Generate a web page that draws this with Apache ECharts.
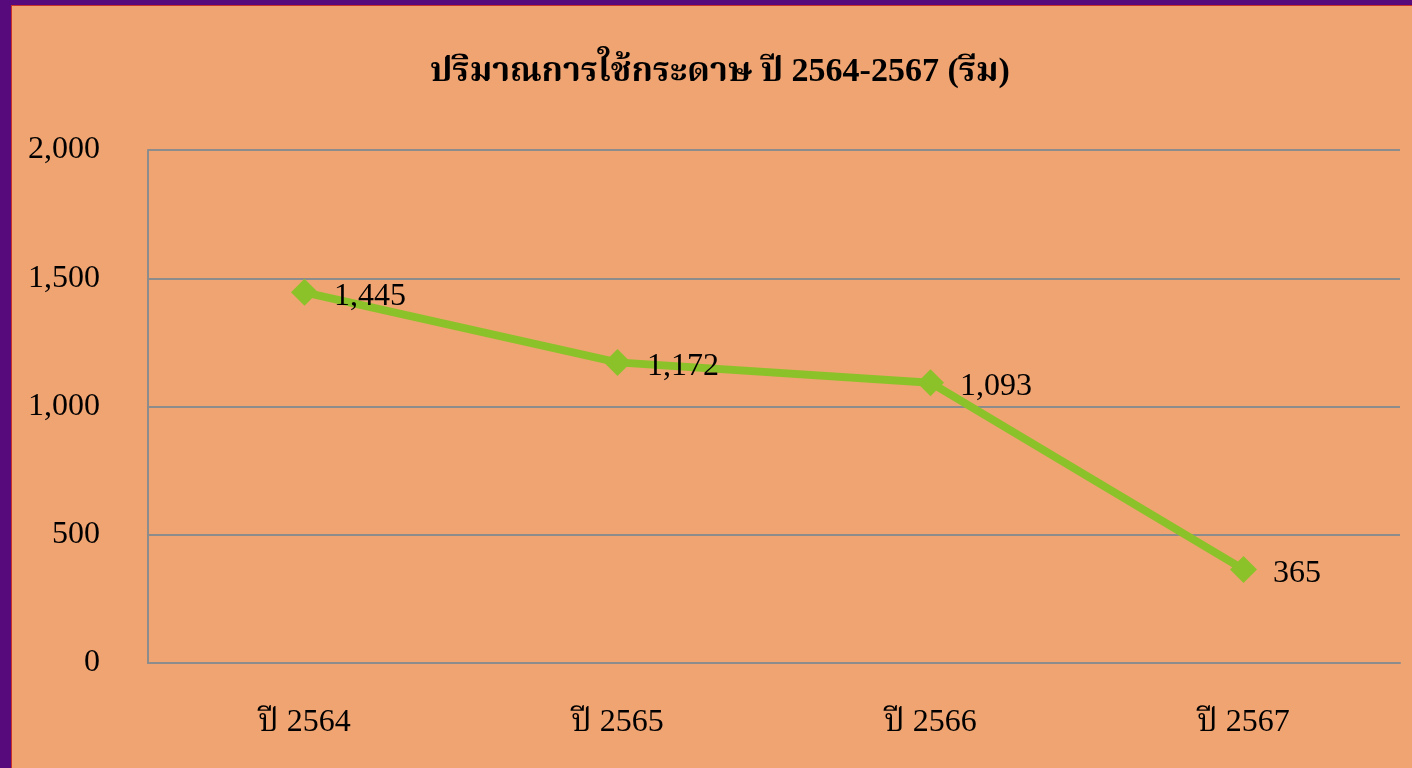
<!DOCTYPE html>
<html>
<head>
<meta charset="utf-8">
<script src="https://cdn.jsdelivr.net/npm/echarts@6/dist/echarts.min.js"></script>
<style>
  html, body { margin: 0; padding: 0; width: 1412px; height: 768px; overflow: hidden; background: #560a7c; }
  #panel {
    position: absolute; left: 11px; top: 5px; width: 1401px; height: 763px;
    background: #f0a472; border-left: 1px solid #c8302a; border-top: 1px solid #c8302a;
  }
  #chart { width: 1400px; height: 762px; }
</style>
</head>
<body>
<div id="panel"><div id="chart"></div></div>
<script>
const titleText = "ปริมาณการใช้กระดาษ ปี 2564-2567 (รีม)";
const years = ["ปี 2564", "ปี 2565", "ปี 2566", "ปี 2567"];
const paperReams = [1445, 1172, 1093, 365];
const yTicks = { min: 0, max: 2000, interval: 500 };

const font = '"Times New Roman", "Liberation Serif", "Noto Serif Thai", serif';
const gray = "#8c8c8c";

const chart = echarts.init(document.getElementById("chart"), null, { renderer: "canvas" });
chart.setOption({
  backgroundColor: "transparent",
  animation: false,
  title: {
    text: titleText,
    left: 413,
    top: 44,
    textStyle: { fontFamily: font, fontSize: 34, fontWeight: "bold", color: "#000" },
  },
  grid: { left: 136, right: 12, top: 144, bottom: 105 },
  xAxis: {
    type: "category",
    data: years,
    boundaryGap: true,
    axisLine: { lineStyle: { color: gray, width: 2 } },
    axisTick: { show: false },
    axisLabel: { color: "#000", fontFamily: font, fontSize: 32, margin: 44 },
  },
  yAxis: {
    type: "value",
    ...yTicks,
    axisLine: { show: true, lineStyle: { color: gray, width: 2 } },
    axisTick: { show: false },
    axisLabel: {
      color: "#000",
      fontFamily: font,
      fontSize: 32,
      margin: 48,
      formatter: (v) => v.toLocaleString("en-US"),
    },
    splitLine: { lineStyle: { color: gray, width: 2 } },
  },
  series: [
    {
      type: "line",
      data: paperReams,
      symbol: "diamond",
      symbolSize: 27,
      lineStyle: { color: "#8cc229", width: 8 },
      itemStyle: { color: "#8cc229" },
      label: {
        show: true,
        position: "right",
        distance: 16,
        offset: [0, 4],
        color: "#000",
        fontFamily: font,
        fontSize: 32,
        formatter: (p) => p.value.toLocaleString("en-US"),
      },
    },
  ],
});
</script>
</body>
</html>
